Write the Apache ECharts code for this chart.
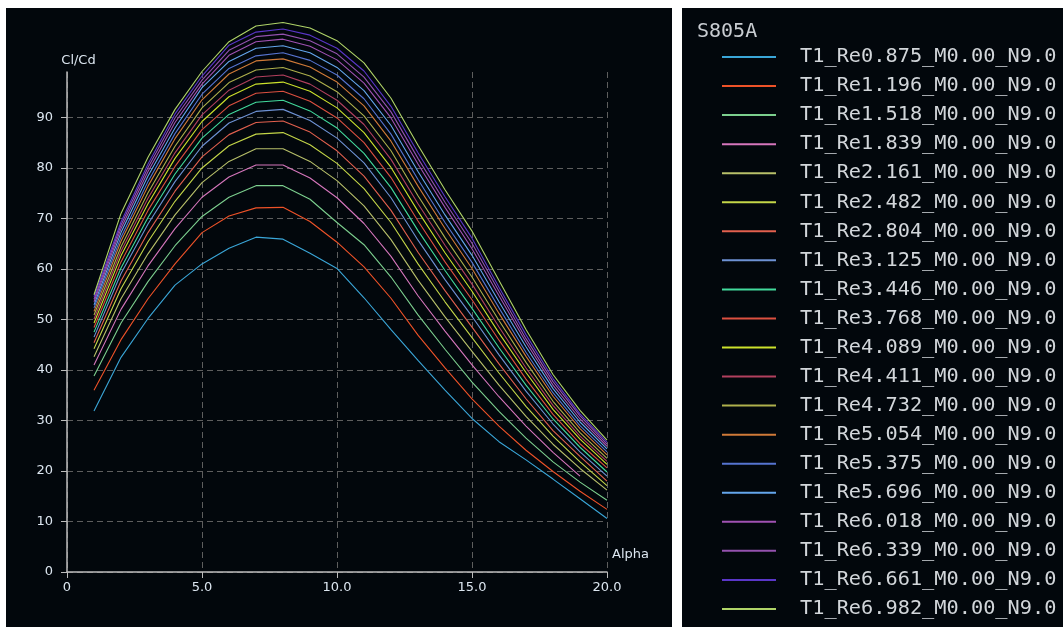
<!DOCTYPE html>
<html>
<head>
<meta charset="utf-8">
<script src="https://cdn.jsdelivr.net/npm/echarts@6/dist/echarts.min.js"></script>
<style>
html,body{margin:0;padding:0;background:#ffffff;}
#chart{width:1063px;height:627px;}
</style>
</head>
<body>
<div id="chart"></div>
<script>
// ---- data ----
const alpha = [1,2,3,4,5,6,7,8,9,10,11,12,13,14,15,16,17,18,19,20];
const xTicks = [0,5,10,15,20];
const yTicks = [0,10,20,30,40,50,60,70,80,90];
const plotTitle = 'S805A';
const seriesNames = [
  'T1_Re0.875_M0.00_N9.0','T1_Re1.196_M0.00_N9.0','T1_Re1.518_M0.00_N9.0','T1_Re1.839_M0.00_N9.0',
  'T1_Re2.161_M0.00_N9.0','T1_Re2.482_M0.00_N9.0','T1_Re2.804_M0.00_N9.0','T1_Re3.125_M0.00_N9.0',
  'T1_Re3.446_M0.00_N9.0','T1_Re3.768_M0.00_N9.0','T1_Re4.089_M0.00_N9.0','T1_Re4.411_M0.00_N9.0',
  'T1_Re4.732_M0.00_N9.0','T1_Re5.054_M0.00_N9.0','T1_Re5.375_M0.00_N9.0','T1_Re5.696_M0.00_N9.0',
  'T1_Re6.018_M0.00_N9.0','T1_Re6.339_M0.00_N9.0','T1_Re6.661_M0.00_N9.0','T1_Re6.982_M0.00_N9.0'
];
const re0875 = [31.9,42.5,50.2,56.8,61.0,64.1,66.3,65.9,63.1,60.1,54.3,48.0,41.9,36.0,30.4,25.8,22.2,18.4,14.5,10.6];
const re1196 = [36.0,46.0,54.1,61.0,67.2,70.5,72.1,72.2,69.4,65.3,60.4,54.2,46.9,40.4,34.3,28.9,24.1,19.9,16.0,12.4];
const re1518 = [38.8,49.3,57.5,64.6,70.4,74.2,76.5,76.5,73.8,69.2,64.8,58.4,50.9,44.1,37.6,31.8,26.5,21.8,17.8,14.2];
const re1839 = [41.0,52.0,60.6,68.0,74.2,78.2,80.6,80.6,78.0,74.1,69.0,62.5,54.7,47.7,41.0,34.7,28.9,23.7,19.0];
const re2161 = [42.6,54.1,63.0,70.7,77.1,81.3,83.8,83.8,81.3,77.5,72.5,65.8,57.8,50.5,43.7,37.0,30.8,25.3,20.5,16.2];
const re2482 = [44.2,56.1,65.4,73.4,80.0,84.4,86.7,87.0,84.6,80.9,75.9,69.2,61.0,53.5,46.4,39.4,32.8,26.9,21.8,17.1];
const re2804 = [45.4,57.6,67.2,75.4,82.2,86.6,89.0,89.3,87.1,83.4,78.4,71.6,63.3,55.7,48.5,41.2,34.3,28.0,22.9,18.0];
const re3125 = [46.5,59.1,68.9,77.3,84.3,88.9,91.2,91.6,89.4,85.9,81.0,74.1,65.7,57.9,50.6,43.0,35.8,29.3,23.8,19.0];
const re3446 = [47.5,60.2,70.2,78.8,85.9,90.6,93.0,93.4,91.3,87.9,82.9,76.1,67.6,59.7,52.2,44.4,37.0,30.3,24.7,19.8];
const re3768 = [48.4,61.4,71.6,80.3,87.6,92.3,94.8,95.2,93.2,89.9,85.0,78.1,69.5,61.4,53.9,45.9,38.2,31.2,25.4,20.6];
const re4089 = [49.3,62.6,72.9,81.9,89.2,94.1,96.6,97.0,95.2,91.9,87.0,80.1,71.4,63.2,55.6,47.3,39.5,32.2,26.3,21.3];
const re4411 = [50.1,63.5,74.0,83.0,90.5,95.4,98.0,98.4,96.6,93.4,88.6,81.7,72.9,64.7,57.0,48.5,40.4,33.0,26.9,21.9];
const re4732 = [50.9,64.4,75.1,84.3,91.9,96.9,99.4,99.9,98.2,95.1,90.3,83.4,74.5,66.2,58.4,49.8,41.5,33.8,27.6,22.5];
const re5054 = [51.6,65.5,76.4,85.8,93.5,98.6,101.2,101.6,100.0,97.0,92.3,85.3,76.4,68.0,60.1,51.2,42.7,34.8,28.4,23.2];
const re5375 = [52.3,66.3,77.3,86.8,94.6,99.7,102.2,102.8,101.3,98.4,93.7,86.7,77.7,69.2,61.3,52.3,43.5,35.5,29.0,23.8];
const re5696 = [52.9,67.2,78.4,87.9,95.9,101.1,103.7,104.2,102.8,99.9,95.3,88.4,79.3,70.7,62.7,53.5,44.6,36.3,29.7,24.4];
const re6018 = [53.5,68.0,79.3,89.0,96.6,102.3,105.0,105.5,104.1,101.4,96.8,89.9,80.8,72.2,64.0,54.7,45.5,37.0,30.3,24.9];
const re6339 = [54.0,68.7,80.1,89.9,97.4,103.3,106.0,106.5,105.2,102.6,98.0,91.1,81.9,73.2,65.1,55.6,46.2,37.7,30.9,25.3];
const re6661 = [54.5,69.3,80.8,90.7,98.2,104.3,106.9,107.5,106.3,103.7,99.2,92.2,83.0,74.3,66.1,56.4,47.0,38.3,31.3,25.7];
const re6982 = [54.9,71.0,82.1,91.6,99.1,105.0,108.1,108.8,107.7,105.2,100.8,93.8,84.5,75.7,67.5,57.7,48.0,39.1,32.0,26.1];
const seriesValues = [re0875,re1196,re1518,re1839,re2161,re2482,re2804,re3125,re3446,re3768,
  re4089,re4411,re4732,re5054,re5375,re5696,re6018,re6339,re6661,re6982];

// ---- styles ----
const palette = ['#3aa6d8','#ee5228','#7ccf8e','#d676bc','#b8c06a','#c4d648','#e2604e','#6e92d4',
  '#42da9c','#dc5040','#cce22c','#b2405e','#aeb04c','#d07a38','#5674d0','#64a6ec',
  '#a052b2','#9452ae','#5a36c8','#b0d468'];
const bg = '#02070c';
const labelColor = '#dce6f0';
const fontUI = 'DejaVu Sans';
const fontMono = 'DejaVu Sans Mono';

const chart = echarts.init(document.getElementById('chart'), null, {renderer:'canvas'});
const series = seriesNames.map((name, i) => ({
  name: name,
  type: 'line',
  data: seriesValues[i].map((v, j) => [alpha[j], v]),
  showSymbol: false,
  symbol: 'none',
  clip: false,
  lineStyle: { width: 1.1, color: palette[i] },
  itemStyle: { color: palette[i] },
  emphasis: { disabled: true },
  z: 3
}));

chart.setOption({
  animation: false,
  backgroundColor: '#ffffff',
  graphic: [
    { type: 'rect', shape: { x: 6, y: 8, width: 666, height: 619 }, style: { fill: bg }, z: -10, silent: true },
    { type: 'rect', shape: { x: 682, y: 8, width: 381, height: 619 }, style: { fill: bg }, z: -10, silent: true }
  ],
  title: {
    text: plotTitle,
    left: 697, top: 22, padding: 0,
    textStyle: { fontFamily: fontMono, fontSize: 20, fontWeight: 'normal', color: '#c9cdd2' }
  },
  legend: {
    orient: 'vertical',
    left: 722, top: 47, padding: 0,
    itemWidth: 54, itemHeight: 2, itemGap: 9.05,
    icon: 'rect',
    selectedMode: false,
    data: seriesNames,
    textStyle: { fontFamily: fontMono, fontSize: 20.3, lineHeight: 20, color: '#d2d6da', padding: [0,0,0,19] }
  },
  grid: { left: 67, top: 72, width: 540, height: 500, containLabel: false },
  xAxis: {
    type: 'value', min: 0, max: 20, interval: 5,
    name: 'Alpha', nameLocation: 'end', nameGap: 5,
    nameTextStyle: { color: labelColor, fontFamily: fontUI, fontSize: 13, verticalAlign: 'bottom', lineHeight: 14, padding: [0,0,10,0] },
    axisLine: { show: true, onZero: false, lineStyle: { color: '#bcbcbc', width: 1.5 } },
    axisTick: { show: true, inside: false, length: 6, lineStyle: { color: '#bcbcbc' } },
    axisLabel: { color: labelColor, fontFamily: fontUI, fontSize: 13, margin: 9,
      formatter: v => (v === 0 ? '0' : v.toFixed(1)) },
    splitLine: { show: true, lineStyle: { color: '#5e5e5e', type: [6,4], width: 1 } }
  },
  yAxis: {
    type: 'value', min: 0, max: 99, interval: 10,
    name: 'Cl/Cd', nameLocation: 'end', nameGap: 5,
    nameTextStyle: { color: labelColor, fontFamily: fontUI, fontSize: 13, align: 'center', padding: [0,0,0,23] },
    axisLine: { show: true, lineStyle: { color: '#bcbcbc', width: 1.5 } },
    axisTick: { show: true, inside: false, length: 6, lineStyle: { color: '#bcbcbc' }, customValues: yTicks },
    axisLabel: { color: labelColor, fontFamily: fontUI, fontSize: 13, margin: 14, showMaxLabel: false },
    splitLine: { show: true, lineStyle: { color: '#5e5e5e', type: [6,4], width: 1 } }
  },
  series: series
});
</script>
</body>
</html>
